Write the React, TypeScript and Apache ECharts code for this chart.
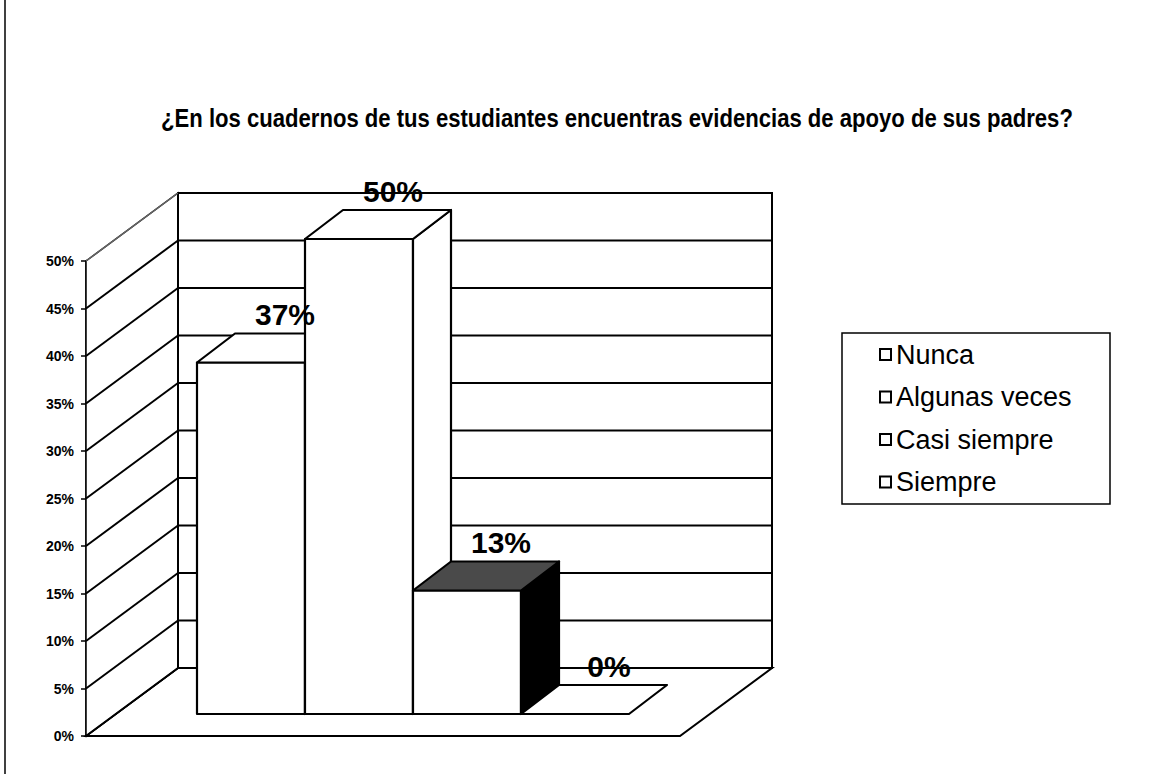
import { useEffect, useRef } from "react";
import * as echarts from "echarts";

const TITLE =
  "¿En los cuadernos de tus estudiantes encuentras evidencias de apoyo de sus padres?";
const categories = ["Nunca", "Algunas veces", "Casi siempre", "Siempre"];
const values = [37, 50, 13, 0];
const Y_MIN = 0;
const Y_MAX = 50;
const Y_STEP = 5;
const yTicks = [0, 5, 10, 15, 20, 25, 30, 35, 40, 45, 50];
const topColors = ["#ffffff", "#ffffff", "#4a4a4a", "#ffffff"];
const sideColors = ["#ffffff", "#ffffff", "#000000", "#ffffff"];

// 3D projection offsets (pixels)
const WALL_DX = 92;
const WALL_DY = 68;
const BAR_FRONT_DX = 30;
const BAR_FRONT_DY = 22;
const BAR_DX = 38;
const BAR_DY = 29;
const GAP_RATIO = 1.5;

const FONT = "'Liberation Sans', Arial, Helvetica, sans-serif";

function renderWalls(params: any, api: any) {
  const cs = params.coordSys;
  const v = api.value(1);
  const y = api.coord([0, v])[1];
  const left = cs.x;
  const right = cs.x + cs.width;
  const top = cs.y;
  const bottom = cs.y + cs.height;
  const children: any[] = [];
  if (params.dataIndex === 0) {
    children.push({
      type: "polygon",
      shape: {
        points: [
          [left, bottom],
          [right, bottom],
          [right + WALL_DX, bottom - WALL_DY],
          [left + WALL_DX, bottom - WALL_DY],
        ],
      },
      style: { fill: "#fff", stroke: "#000", lineWidth: 2 },
    });
    children.push({
      type: "polygon",
      shape: {
        points: [
          [left, top],
          [left + WALL_DX, top - WALL_DY],
          [left + WALL_DX, bottom - WALL_DY],
          [left, bottom],
        ],
      },
      style: { fill: "#fff", stroke: "#000", lineWidth: 1.5 },
    });
    children.push({
      type: "rect",
      shape: { x: left + WALL_DX, y: top - WALL_DY, width: cs.width, height: cs.height },
      style: { fill: "#fff", stroke: "#000", lineWidth: 2 },
    });
  }
  const isTop = v === Y_MAX;
  children.push({
    type: "line",
    shape: { x1: left, y1: y, x2: left + WALL_DX, y2: y - WALL_DY },
    style: { stroke: isTop ? "#666" : "#000", lineWidth: isTop ? 1.5 : 2 },
  });
  children.push({
    type: "line",
    shape: { x1: left + WALL_DX, y1: y - WALL_DY, x2: right + WALL_DX, y2: y - WALL_DY },
    style: { stroke: "#000", lineWidth: 2 },
  });
  return { type: "group", children };
}

function makeBarRenderer(i: number) {
  return (params: any, api: any) => {
    const v = api.value(1);
    const base = api.coord([0, Y_MIN]);
    const topPt = api.coord([0, v]);
    const catW = api.size([1, 0])[0];
    const n = categories.length;
    const w = catW / (n + GAP_RATIO);
    const x = base[0] - (n * w) / 2 + i * w + BAR_FRONT_DX;
    const yb = base[1] - BAR_FRONT_DY;
    const yt = topPt[1] - BAR_FRONT_DY;
    const children: any[] = [];
    const stroke = { stroke: "#000", lineWidth: 2.2, lineJoin: "round" };
    if (yb - yt > 0.5) {
      children.push({
        type: "rect",
        shape: { x, y: yt, width: w, height: yb - yt },
        style: { fill: "#fff", ...stroke },
      });
      children.push({
        type: "polygon",
        shape: {
          points: [
            [x + w, yt],
            [x + w + BAR_DX, yt - BAR_DY],
            [x + w + BAR_DX, yb - BAR_DY],
            [x + w, yb],
          ],
        },
        style: { fill: sideColors[i], ...stroke },
      });
    }
    children.push({
      type: "polygon",
      shape: {
        points: [
          [x, yt],
          [x + w, yt],
          [x + w + BAR_DX, yt - BAR_DY],
          [x + BAR_DX, yt - BAR_DY],
        ],
      },
      style: { fill: topColors[i], ...stroke },
    });
    children.push({
      type: "text",
      x: x + w / 2 + 34,
      y: yt - BAR_DY - 4,
      style: {
        text: `${v}%`,
        fill: "#000",
        font: `bold 30px ${FONT}`,
        align: "center",
        verticalAlign: "bottom",
      },
      z2: 10,
    });
    return { type: "group", children };
  };
}

export default function App() {
  const ref = useRef<HTMLDivElement>(null);
  useEffect(() => {
    document.body.style.margin = "0";
    if (!ref.current) return;
    const chart = echarts.init(ref.current, undefined, { renderer: "svg" });
    const legendData = categories.map((name) => ({
      name,
      itemStyle: { color: "#fff", borderColor: "#000", borderWidth: 2 },
    }));
    chart.setOption({
      animation: false,
      backgroundColor: "#fff",
      grid: { left: 86, top: 261, width: 594, height: 475 },
      xAxis: {
        type: "category",
        data: [""],
        show: false,
      },
      yAxis: {
        type: "value",
        min: Y_MIN,
        max: Y_MAX,
        interval: Y_STEP,
        axisLine: { show: true, lineStyle: { color: "#000", width: 2.5 } },
        axisTick: { show: true, length: 5, lineStyle: { color: "#000", width: 1.5 } },
        axisLabel: {
          formatter: "{value}%",
          color: "#000",
          fontSize: 14,
          fontWeight: "bold",
          fontFamily: FONT,
          margin: 12,
        },
        splitLine: { show: false },
      },
      legend: {
        data: legendData,
        orient: "vertical",
        left: 879,
        top: 341,
        padding: 0,
        itemWidth: 11,
        itemHeight: 11,
        itemGap: 15.5,
        icon: "rect",
        selectedMode: false,
        textStyle: { fontSize: 27, color: "#000", fontFamily: FONT },
      },
      graphic: [
        {
          type: "text",
          x: 617,
          y: 118,
          scaleX: 0.85,
          style: {
            text: TITLE,
            font: `bold 26px ${FONT}`,
            fill: "#000",
            align: "center",
            verticalAlign: "middle",
          },
        },
        {
          type: "rect",
          shape: { x: 842, y: 333, width: 268, height: 171 },
          style: { fill: "none", stroke: "#000", lineWidth: 1.5 },
          z: -1,
        },
        {
          type: "line",
          shape: { x1: 5, y1: 0, x2: 5, y2: 774 },
          style: { stroke: "#000", lineWidth: 1.5 },
        },
      ],
      series: [
        {
          type: "custom",
          name: "walls",
          renderItem: renderWalls,
          data: yTicks.map((t) => [0, t]),
          silent: true,
          z: 1,
        },
        ...categories.map((name, i) => ({
          type: "custom",
          name,
          renderItem: makeBarRenderer(i),
          data: [[0, values[i]]],
          itemStyle: { color: "#fff", borderColor: "#000", borderWidth: 2 },
          z: 2,
        })),
      ],
    });
    return () => chart.dispose();
  }, []);
  return <div ref={ref} style={{ width: 1173, height: 774 }} />;
}
